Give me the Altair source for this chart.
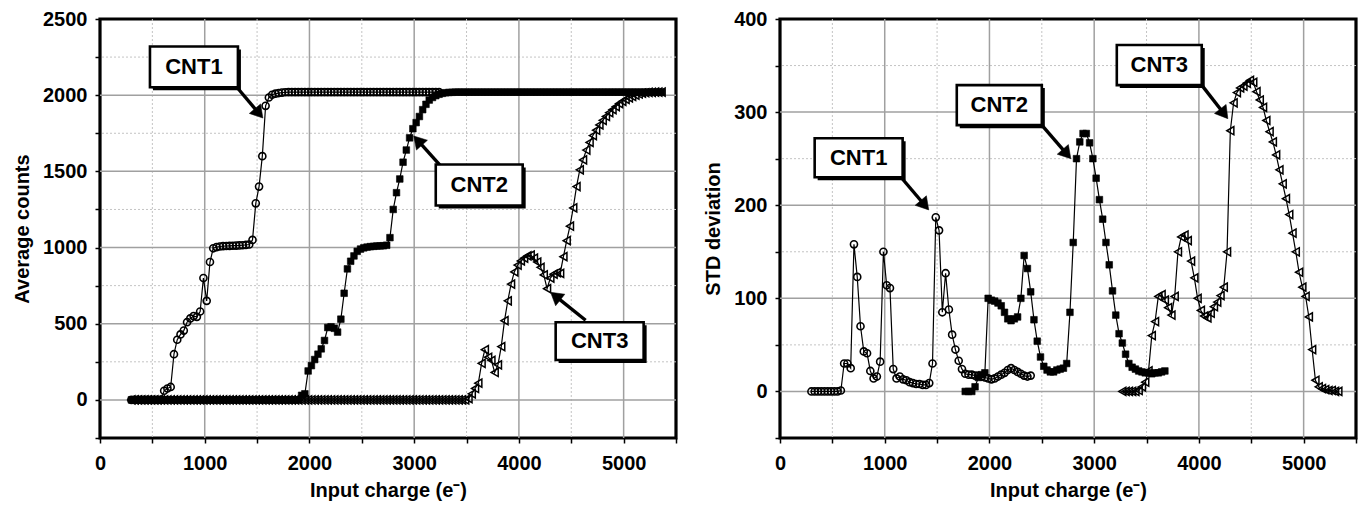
import math
import altair as alt
import pandas as pd

# ---------------- data ----------------
charge = [
    300, 331.25, 362.5, 393.75, 425, 456.25, 487.5, 518.75,
    550, 581.25, 612.5, 643.75, 675, 706.25, 737.5, 768.75,
    800, 831.25, 862.5, 893.75, 925, 956.25, 987.5, 1018.75,
    1050, 1081.25, 1112.5, 1143.75, 1175, 1206.25, 1237.5, 1268.75,
    1300, 1331.25, 1362.5, 1393.75, 1425, 1456.25, 1487.5, 1518.75,
    1550, 1581.25, 1612.5, 1643.75, 1675, 1706.25, 1737.5, 1768.75,
    1800, 1831.25, 1862.5, 1893.75, 1925, 1956.25, 1987.5, 2018.75,
    2050, 2081.25, 2112.5, 2143.75, 2175, 2206.25, 2237.5, 2268.75,
    2300, 2331.25, 2362.5, 2393.75, 2425, 2456.25, 2487.5, 2518.75,
    2550, 2581.25, 2612.5, 2643.75, 2675, 2706.25, 2737.5, 2768.75,
    2800, 2831.25, 2862.5, 2893.75, 2925, 2956.25, 2987.5, 3018.75,
    3050, 3081.25, 3112.5, 3143.75, 3175, 3206.25, 3237.5, 3268.75,
    3300, 3331.25, 3362.5, 3393.75, 3425, 3456.25, 3487.5, 3518.75,
    3550, 3581.25, 3612.5, 3643.75, 3675, 3706.25, 3737.5, 3768.75,
    3800, 3831.25, 3862.5, 3893.75, 3925, 3956.25, 3987.5, 4018.75,
    4050, 4081.25, 4112.5, 4143.75, 4175, 4206.25, 4237.5, 4268.75,
    4300, 4331.25, 4362.5, 4393.75, 4425, 4456.25, 4487.5, 4518.75,
    4550, 4581.25, 4612.5, 4643.75, 4675, 4706.25, 4737.5, 4768.75,
    4800, 4831.25, 4862.5, 4893.75, 4925, 4956.25, 4987.5, 5018.75,
    5050, 5081.25, 5112.5, 5143.75, 5175, 5206.25, 5237.5, 5268.75,
    5300, 5331.25, 5362.5,
]

# Average counts (left panel)
avg_cnt1_start = 0
avg_cnt1 = [
    0, 0, 0, 0, 0, 0, 0, 0,
    0, 0, 60, 75, 85, 300, 395, 430,
    455, 510, 535, 550, 545, 580, 800, 650,
    905, 995, 1003, 1007, 1009, 1010, 1011, 1012,
    1013, 1014, 1015, 1017, 1020, 1050, 1290, 1400,
    1600, 1930, 1985, 2003, 2010, 2014, 2017, 2019,
    2020, 2020, 2020, 2020, 2020, 2020, 2020, 2020,
    2020, 2020, 2020, 2020, 2020, 2020, 2020, 2020,
    2020, 2020, 2020, 2020, 2020, 2020, 2020, 2020,
    2020, 2020, 2020, 2020, 2020, 2020, 2020, 2020,
    2020, 2020, 2020, 2020, 2020, 2020, 2020, 2020,
    2020, 2020, 2020, 2020, 2020, 2020, 2020,
]
avg_cnt2_start = 0
avg_cnt2 = [
    0, 0, 0, 0, 0, 0, 0, 0,
    0, 0, 0, 0, 0, 0, 0, 0,
    0, 0, 0, 0, 0, 0, 0, 0,
    0, 0, 0, 0, 0, 0, 0, 0,
    0, 0, 0, 0, 0, 0, 0, 0,
    0, 0, 0, 0, 0, 0, 0, 0,
    0, 0, 0, 0, 30, 40, 190, 225,
    265, 300, 335, 390, 475, 480, 470, 445,
    530, 700, 860, 910, 945, 975, 990, 998,
    1003, 1006, 1008, 1010, 1011, 1012, 1015, 1065,
    1250, 1360, 1450, 1560, 1640, 1720, 1780, 1820,
    1860, 1905, 1940, 1968, 1985, 1997, 2006, 2012,
    2016, 2018, 2019, 2020, 2020, 2020, 2020, 2020,
    2020, 2020, 2020, 2020, 2020, 2020, 2020, 2020,
    2020, 2020, 2020, 2020, 2020, 2020, 2020, 2020,
    2020, 2020, 2020, 2020, 2020, 2020, 2020, 2020,
    2020, 2020, 2020, 2020, 2020, 2020, 2020, 2020,
    2020, 2020, 2020, 2020, 2020, 2020, 2020, 2020,
    2020, 2020, 2020, 2020, 2020, 2020, 2020, 2020,
    2020, 2020, 2020, 2020, 2020, 2020, 2020, 2020,
    2020, 2020, 2020,
]
avg_cnt3_start = 0
avg_cnt3 = [
    0, 0, 0, 0, 0, 0, 0, 0,
    0, 0, 0, 0, 0, 0, 0, 0,
    0, 0, 0, 0, 0, 0, 0, 0,
    0, 0, 0, 0, 0, 0, 0, 0,
    0, 0, 0, 0, 0, 0, 0, 0,
    0, 0, 0, 0, 0, 0, 0, 0,
    0, 0, 0, 0, 0, 0, 0, 0,
    0, 0, 0, 0, 0, 0, 0, 0,
    0, 0, 0, 0, 0, 0, 0, 0,
    0, 0, 0, 0, 0, 0, 0, 0,
    0, 0, 0, 0, 0, 0, 0, 0,
    0, 0, 0, 0, 0, 0, 0, 0,
    0, 0, 0, 0, 0, 0, 0, 8,
    40, 75, 110, 240, 330, 280, 260, 180,
    230, 350, 520, 650, 760, 840, 885, 912,
    930, 945, 950, 930, 905, 870, 820, 730,
    800, 825, 835, 830, 940, 1045, 1140, 1260,
    1400, 1510, 1575, 1640, 1690, 1735, 1770, 1805,
    1835, 1860, 1885, 1905, 1925, 1945, 1960, 1972,
    1983, 1992, 2000, 2008, 2013, 2016, 2018, 2019,
    2020, 2020, 2020,
]

# STD deviation (right panel)
std_cnt1_start = 0
std_cnt1 = [
    0, 0, 0, 0, 0, 0, 0, 0,
    0, 1, 30, 30, 25, 158, 123, 70,
    43, 41, 22, 14, 16, 32, 150, 114,
    111, 24, 14, 16, 13, 12, 10, 9,
    8, 8, 7, 7, 9, 30, 187, 173,
    85, 127, 88, 61, 45, 33, 24, 19,
    18, 18, 17, 17, 16, 15, 14, 13,
    14, 16, 18, 20, 23, 25, 23, 21,
    19, 17, 16, 17,
]
std_cnt2_start = 47
std_cnt2 = [
    0, 0, 0, 5, 15, 18, 20,
    100, 98, 97, 95, 92, 85, 78, 76,
    78, 80, 100, 146, 132, 107, 77, 54,
    37, 27, 23, 21, 21, 23, 24, 25,
    30, 85, 160, 250, 268, 277, 277, 267,
    250, 229, 206, 185, 160, 136, 108, 82,
    62, 52, 40, 30, 26, 24, 22, 21,
    20, 20, 19, 20, 20, 21, 22,
]
std_cnt3_start = 95
std_cnt3 = [
    0, 0, 0, 0, 0, 1, 5, 10,
    22, 60, 75, 102, 104, 98, 90, 82,
    102, 150, 166, 168, 162, 140, 122, 100,
    87, 81, 79, 84, 91, 96, 103, 112,
    150, 280, 310, 321, 326, 328, 331, 334,
    332, 322, 313, 305, 291, 279, 268, 254,
    238, 223, 207, 190, 170, 150, 128, 112,
    102, 80, 45, 12, 5, 3, 2, 1,
    1, 0, 0,
]

# axes / grid
x_ticks = [0, 500, 1000, 1500, 2000, 2500, 3000, 3500, 4000, 4500, 5000, 5500]
x_major = [1000, 2000, 3000, 4000, 5000]
x_minor = [500, 1500, 2500, 3500, 4500]
avg_ticks = [-250, 0, 250, 500, 750, 1000, 1250, 1500, 1750, 2000, 2250, 2500]
avg_major = [0, 500, 1000, 1500, 2000]
avg_minor = [250, 750, 1250, 1750, 2250]
std_ticks = [-50, 0, 50, 100, 150, 200, 250, 300, 350, 400]
std_major = [0, 100, 200, 300]
std_minor = [50, 150, 250, 350]

# callouts
labels = ["CNT1", "CNT2", "CNT3"]
avg_box_x = [477, 3206, 4351]
avg_box_x2 = [1317, 4036, 5191]
avg_box_y = [2320, 1545, 510]
avg_box_y2 = [2052, 1276, 262]
avg_arrow_x = [1307, 3244, 4637]
avg_arrow_y = [2052, 1542, 523]
avg_arrow_x2 = [1555, 2996, 4303]
avg_arrow_y2 = [1850, 1732, 706]

std_box_x = [331, 1688, 3216]
std_box_x2 = [1171, 2500, 4027]
std_box_y = [272, 329, 372]
std_box_y2 = [230, 286, 329]
std_arrow_x = [1133, 2500, 4027]
std_arrow_y = [233, 286, 329]
std_arrow_x2 = [1420, 2777, 4276]
std_arrow_y2 = [195, 250, 293]

# ---------------- chart ----------------
FONT = "Liberation Sans"
W, H = 576, 419
XDOM = [0, 5500]


def series_df(start, vals):
    return pd.DataFrame({"x": charge[start:start + len(vals)], "y": vals})


def panel(series, ydom, yticks, ystep, ytitle, ymaj, ymin, ann):
    xs = alt.Scale(domain=XDOM, nice=False, zero=False)
    ys = alt.Scale(domain=ydom, nice=False, zero=False)
    common = dict(grid=False, domain=False, ticks=True, tickSize=5, tickWidth=1.5,
                  tickColor="black", labelFont=FONT, labelFontSize=20,
                  labelFontWeight="bold", labelColor="black", labelOverlap=False,
                  titleFont=FONT, titleFontSize=20, titleFontWeight="bold",
                  titleColor="black")
    xaxis = alt.Axis(values=x_ticks, title="Input charge (e\u207b)",
                     labelExpr="datum.value % 1000 === 0 ? format(datum.value, 'd') : ''",
                     labelFlush=False, labelPadding=10, titlePadding=7, **common)
    yaxis = alt.Axis(values=yticks, title=ytitle,
                     labelExpr=f"datum.value % {ystep} === 0 ? format(datum.value, 'd') : ''",
                     labelPadding=8, titlePadding=10, **common)

    def X(f):
        return alt.X(f, type="quantitative", scale=xs, axis=xaxis)

    def Y(f):
        return alt.Y(f, type="quantitative", scale=ys, axis=yaxis)

    layers = []
    # grid
    layers.append(alt.Chart(pd.DataFrame({"v": x_minor})).mark_rule(
        color="#c4c4c4", strokeWidth=1, strokeDash=[2, 2]).encode(x=X("v")))
    layers.append(alt.Chart(pd.DataFrame({"v": ymin})).mark_rule(
        color="#c4c4c4", strokeWidth=1, strokeDash=[2, 2]).encode(y=Y("v")))
    layers.append(alt.Chart(pd.DataFrame({"v": x_major})).mark_rule(
        color="#a0a0a0", strokeWidth=1.5).encode(x=X("v")))
    layers.append(alt.Chart(pd.DataFrame({"v": ymaj})).mark_rule(
        color="#a0a0a0", strokeWidth=1.5).encode(y=Y("v")))

    styles = {
        "circle": dict(shape="circle", size=50, filled=False, color="black",
                       strokeWidth=1.6, opacity=1),
        "square": dict(shape="square", size=44, filled=True, color="black",
                       stroke="black", strokeWidth=0.6, opacity=1),
        "tri": dict(shape="triangle-left", size=66, filled=False, color="black",
                    strokeWidth=1.5, opacity=1),
    }
    for df, st in series:
        base = alt.Chart(df)
        layers.append(base.mark_line(color="black", strokeWidth=1.2).encode(x=X("x"), y=Y("y")))
        layers.append(base.mark_point(**styles[st]).encode(x=X("x"), y=Y("y")))

    # callouts
    bx, bx2, by, by2, ax, ay, ax2, ay2 = ann
    kx = W / (XDOM[1] - XDOM[0])
    ky = H / (ydom[1] - ydom[0])
    ang, rx2, ry2 = [], [], []
    for i in range(len(labels)):
        dx = (ax2[i] - ax[i]) * kx
        dy = -(ay2[i] - ay[i]) * ky
        L = math.hypot(dx, dy)
        ang.append(math.degrees(math.atan2(dx, -dy)) % 360)
        f = max(L - 9, 0) / L
        rx2.append(ax[i] + (ax2[i] - ax[i]) * f)
        ry2.append(ay[i] + (ay2[i] - ay[i]) * f)
    adf = pd.DataFrame({"x": ax, "y": ay, "x2": rx2, "y2": ry2,
                        "tx": ax2, "ty": ay2, "ang": ang})
    layers.append(alt.Chart(adf).mark_rule(color="black", strokeWidth=3.4).encode(
        x=X("x"), y=Y("y"), x2=alt.X2("x2"), y2=alt.Y2("y2")))
    layers.append(alt.Chart(adf).mark_point(
        shape="M0,0 L-0.6,1 L0.6,1 Z", size=600, filled=True, fill="black",
        stroke="black", strokeWidth=0.5, opacity=1).encode(
        x=X("tx"), y=Y("ty"), angle=alt.Angle("ang:Q", scale=None)))
    bdf = pd.DataFrame({"x": bx, "x2": bx2, "y": by, "y2": by2, "label": labels,
                        "cx": [(a + b) / 2 for a, b in zip(bx, bx2)],
                        "cy": [(a + b) / 2 for a, b in zip(by, by2)]})
    layers.append(alt.Chart(bdf).mark_rect(fill="black", xOffset=3, x2Offset=3,
                                           yOffset=3, y2Offset=3).encode(
        x=X("x"), x2=alt.X2("x2"), y=Y("y"), y2=alt.Y2("y2")))
    layers.append(alt.Chart(bdf).mark_rect(fill="white", stroke="black", strokeWidth=2.6).encode(
        x=X("x"), x2=alt.X2("x2"), y=Y("y"), y2=alt.Y2("y2")))
    layers.append(alt.Chart(bdf).mark_text(font=FONT, fontSize=22, fontWeight="bold",
                                           color="black", align="center",
                                           baseline="middle").encode(
        x=X("cx"), y=Y("cy"), text="label:N"))

    return alt.layer(*layers).properties(width=W, height=H)


left = panel(
    [(series_df(avg_cnt1_start, avg_cnt1), "circle"),
     (series_df(avg_cnt2_start, avg_cnt2), "square"),
     (series_df(avg_cnt3_start, avg_cnt3), "tri")],
    [-250, 2500], avg_ticks, 500, "Average counts", avg_major, avg_minor,
    (avg_box_x, avg_box_x2, avg_box_y, avg_box_y2,
     avg_arrow_x, avg_arrow_y, avg_arrow_x2, avg_arrow_y2))

right = panel(
    [(series_df(std_cnt1_start, std_cnt1), "circle"),
     (series_df(std_cnt2_start, std_cnt2), "square"),
     (series_df(std_cnt3_start, std_cnt3), "tri")],
    [-50, 400], std_ticks, 100, "STD deviation", std_major, std_minor,
    (std_box_x, std_box_x2, std_box_y, std_box_y2,
     std_arrow_x, std_arrow_y, std_arrow_x2, std_arrow_y2))

chart = alt.hconcat(left, right, spacing=23).properties(
    padding={"left": 10, "top": 7, "right": 2, "bottom": 2},
    background="white",
).configure_view(stroke="black", strokeWidth=3.2)

chart.save("out.html", embed_options={"renderer": "svg", "actions": False})
